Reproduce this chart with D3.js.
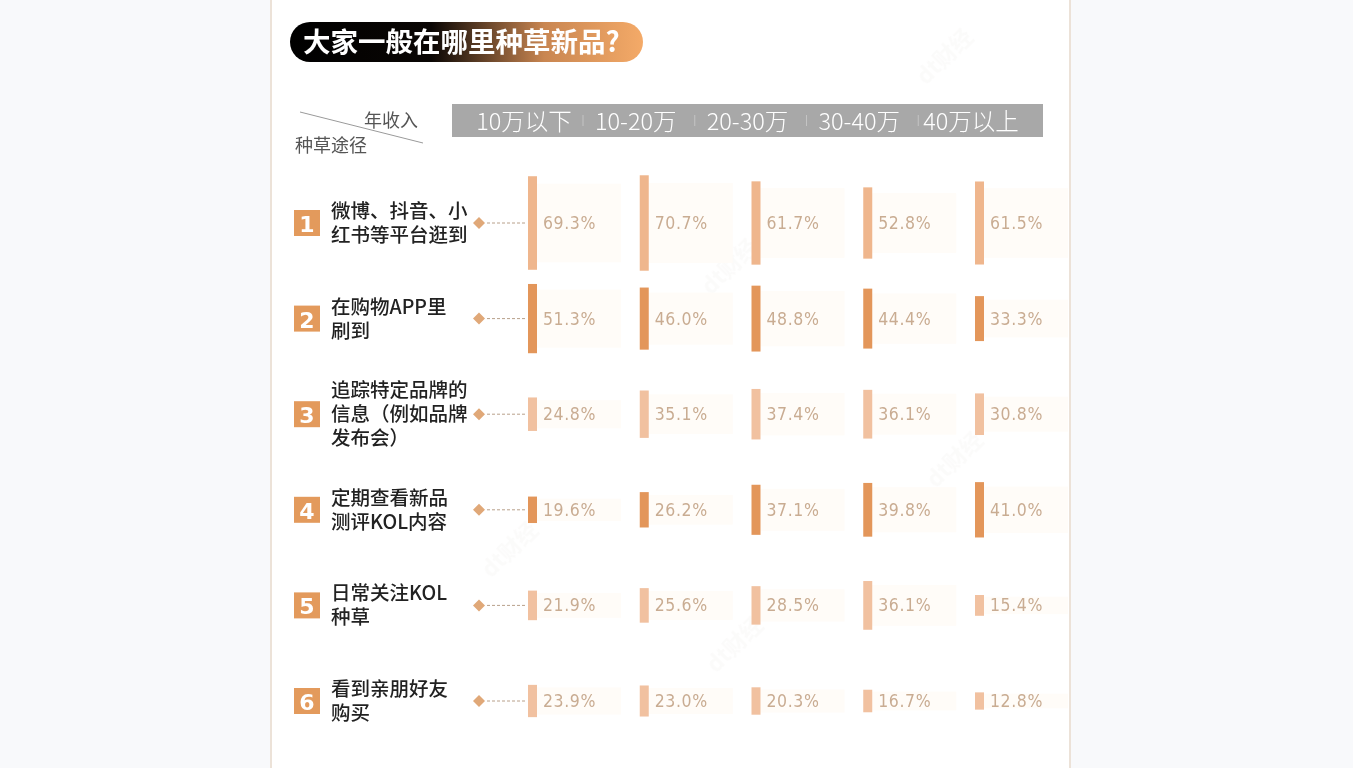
<!DOCTYPE html>
<html>
<head>
<meta charset="utf-8">
<script src="https://cdn.jsdelivr.net/npm/d3@7"></script>
<style>
  html, body { margin: 0; padding: 0; background: #f8f9fb; }
  svg { display: block; }
</style>
</head>
<body>
<div id="chart"></div>
<script>
// data
const title = "大家一般在哪里种草新品?";
const incomes = ["10万以下", "10-20万", "20-30万", "30-40万", "40万以上"];
const channels = [
  ["微博、抖音、小", "红书等平台逛到"],
  ["在购物APP里", "刷到"],
  ["追踪特定品牌的", "信息（例如品牌", "发布会）"],
  ["定期查看新品", "测评KOL内容"],
  ["日常关注KOL", "种草"],
  ["看到亲朋好友", "购买"]
];
const shares = [
  [69.3, 70.7, 61.7, 52.8, 61.5],
  [51.3, 46.0, 48.8, 44.4, 33.3],
  [24.8, 35.1, 37.4, 36.1, 30.8],
  [19.6, 26.2, 37.1, 39.8, 41.0],
  [21.9, 25.6, 28.5, 36.1, 15.4],
  [23.9, 23.0, 20.3, 16.7, 12.8]
];
const barColors = ["#efb68d", "#e3965a", "#f1c1a0", "#e3965a", "#f1c1a0", "#f1c1a0"];

const W = 1353, H = 768;
const cjk = "'Noto Sans CJK SC', 'Noto Sans', sans-serif";

const svg = d3.select("#chart").append("svg")
  .attr("width", W)
  .attr("height", H);

// panel
svg.append("rect")
  .attr("x", 270).attr("y", 0)
  .attr("width", 800).attr("height", H)
  .attr("fill", "#ffffff");
svg.append("line")
  .attr("x1", 271).attr("x2", 271).attr("y1", 0).attr("y2", H)
  .attr("stroke", "#ece2d8").attr("stroke-width", 2);
svg.append("line")
  .attr("x1", 1070).attr("x2", 1070).attr("y1", 0).attr("y2", H)
  .attr("stroke", "#ece2d8").attr("stroke-width", 2);

// watermark, very faint, in the gaps
const wm = svg.append("g").attr("opacity", 0.035);
const wmSpots = [[950, 62], [735, 272], [960, 465], [515, 555], [740, 650]];
wmSpots.forEach(p => {
  wm.append("text")
    .attr("transform", `translate(${p[0]},${p[1]}) rotate(-45)`)
    .attr("text-anchor", "middle")
    .attr("font-family", cjk)
    .attr("font-weight", 700)
    .attr("font-size", 22)
    .attr("fill", "#8a7a6a")
    .text("dt财经");
});

// title
const defs = svg.append("defs");
const grad = defs.append("linearGradient")
  .attr("id", "titleGrad")
  .attr("x1", "0%").attr("x2", "100%");
grad.append("stop").attr("offset", "0%").attr("stop-color", "#000000");
grad.append("stop").attr("offset", "40%").attr("stop-color", "#0a0604");
grad.append("stop").attr("offset", "72%").attr("stop-color", "#c98651");
grad.append("stop").attr("offset", "100%").attr("stop-color", "#f4aa68");

svg.append("rect")
  .attr("x", 290).attr("y", 22)
  .attr("width", 353).attr("height", 40)
  .attr("rx", 20)
  .attr("fill", "url(#titleGrad)");
svg.append("text")
  .attr("x", 303).attr("y", 52)
  .attr("font-family", cjk)
  .attr("font-weight", 700)
  .attr("font-size", 27.5)
  .attr("fill", "#ffffff")
  .text(title);

// scales
const x = d3.scalePoint()
  .domain(incomes)
  .range([528, 975]);

const y = d3.scalePoint()
  .domain(d3.range(channels.length))
  .range([223, 701]);

const h = d3.scaleLinear()
  .domain([0, 100])
  .range([0, 135]);

// corner header
svg.append("line")
  .attr("x1", 300).attr("y1", 112)
  .attr("x2", 423).attr("y2", 143)
  .attr("stroke", "#9a9a9a").attr("stroke-width", 1);
svg.append("text")
  .attr("x", 418).attr("y", 127)
  .attr("text-anchor", "end")
  .attr("font-family", cjk)
  .attr("font-size", 18)
  .attr("fill", "#555555")
  .text("年收入");
svg.append("text")
  .attr("x", 295).attr("y", 152)
  .attr("font-family", cjk)
  .attr("font-size", 18)
  .attr("fill", "#555555")
  .text("种草途径");

// column header
svg.append("rect")
  .attr("x", 452).attr("y", 104)
  .attr("width", 591).attr("height", 33)
  .attr("fill", "#a8a8a8");

const head = svg.append("g");
head.selectAll("text")
  .data(incomes)
  .join("text")
  .attr("x", d => x(d) - 4)
  .attr("y", 130)
  .attr("text-anchor", "middle")
  .attr("font-family", cjk)
  .attr("font-weight", 300)
  .attr("font-size", 23.5)
  .attr("fill", "#ffffff")
  .text(d => d);
head.selectAll("line")
  .data(incomes.slice(0, -1))
  .join("line")
  .attr("x1", d => x(d) + 55).attr("x2", d => x(d) + 55)
  .attr("y1", 115).attr("y2", 126)
  .attr("stroke", "#c4c4c4").attr("stroke-width", 1);

// rows
const rows = svg.append("g")
  .selectAll("g")
  .data(channels)
  .join("g")
  .attr("transform", (d, i) => `translate(0,${y(i)})`);

rows.append("rect")
  .attr("x", 294).attr("y", -13)
  .attr("width", 26).attr("height", 26)
  .attr("fill", "#e39a5c");
rows.append("text")
  .attr("x", 307).attr("y", 9)
  .attr("text-anchor", "middle")
  .attr("font-family", "'DejaVu Sans', sans-serif")
  .attr("font-weight", 700)
  .attr("font-size", 22)
  .attr("fill", "#ffffff")
  .text((d, i) => i + 1);

rows.each(function(lines) {
  const g = d3.select(this);
  const lh = 24;
  const top = -(lines.length - 1) * lh / 2;
  g.selectAll("text.lbl")
    .data(lines)
    .join("text")
    .attr("class", "lbl")
    .attr("x", 331)
    .attr("y", (d, j) => top + j * lh + 7)
    .attr("font-family", cjk)
    .attr("font-weight", 500)
    .attr("font-size", 19.5)
    .attr("fill", "#222222")
    .text(d => d);
});

rows.append("path")
  .attr("d", "M479,-6 L485,0 L479,6 L473,0 Z")
  .attr("fill", "#e0a878");
rows.append("line")
  .attr("x1", 487).attr("x2", 527)
  .attr("y1", 0).attr("y2", 0)
  .attr("stroke", "#b8a08a")
  .attr("stroke-width", 1)
  .attr("stroke-dasharray", "3,2");

// cells
const cells = rows.selectAll("g.cell")
  .data((d, i) => shares[i].map((v, j) => ({v: v, c: incomes[j], row: i})))
  .join("g")
  .attr("class", "cell");

cells.append("rect")
  .attr("x", d => x(d.c) + 9)
  .attr("y", d => -h(d.v) * 0.42)
  .attr("width", 84)
  .attr("height", d => h(d.v) * 0.84)
  .attr("fill", "#fffcf8");

cells.append("rect")
  .attr("x", d => x(d.c))
  .attr("y", d => -h(d.v) / 2)
  .attr("width", 9)
  .attr("height", d => h(d.v))
  .attr("fill", d => barColors[d.row]);

cells.append("text")
  .attr("x", d => x(d.c) + 15)
  .attr("y", 6)
  .attr("font-family", "'DejaVu Sans Condensed', 'DejaVu Sans', sans-serif")
  .attr("font-size", 17.5)
  .attr("letter-spacing", 0.6)
  .attr("fill", "#c9ac92")
  .text(d => d.v.toFixed(1) + "%");
</script>
</body>
</html>
